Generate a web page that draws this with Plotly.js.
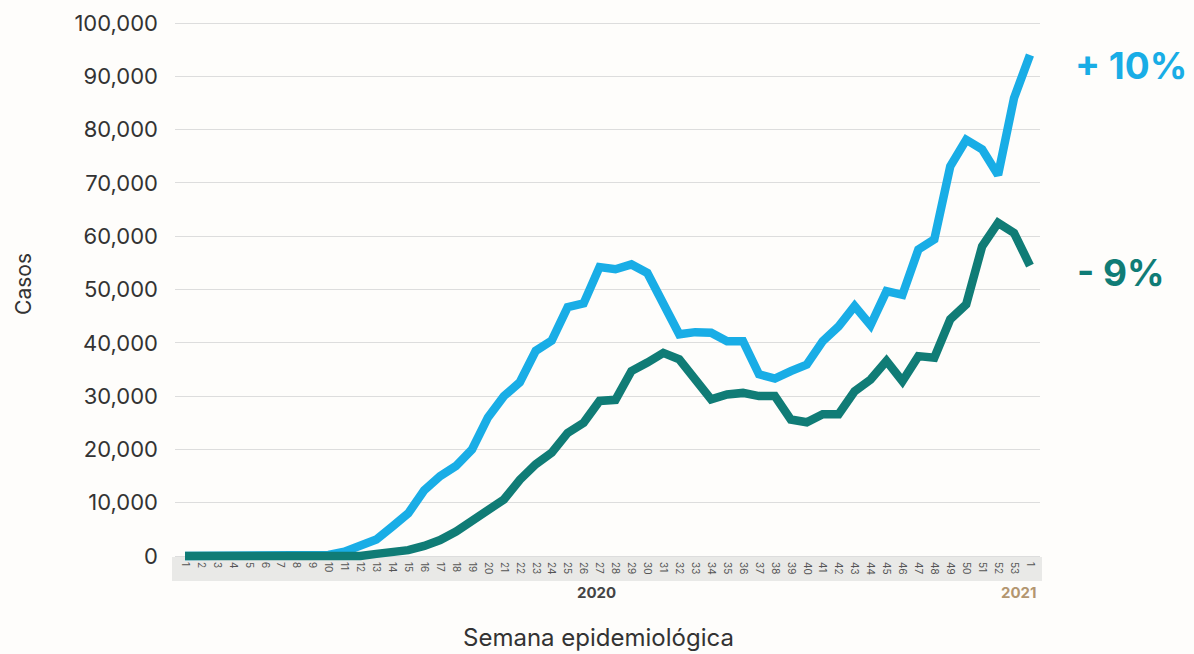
<!DOCTYPE html>
<html>
<head>
<meta charset="utf-8">
<script src="https://cdn.plot.ly/plotly-3.0.1.min.js"></script>
<style>
  html, body { margin: 0; padding: 0; background: #ffffff; }
  #chart { width: 1194px; height: 654px; }
</style>
</head>
<body>
<div id="chart"></div>
<script>
// Semana epidemiológica labels: weeks 1–53 of 2020, then week 1 of 2021
const weekLabels = ["1","2","3","4","5","6","7","8","9","10","11","12","13","14","15","16","17","18","19","20",
  "21","22","23","24","25","26","27","28","29","30","31","32","33","34","35","36","37","38","39","40",
  "41","42","43","44","45","46","47","48","49","50","51","52","53","1"];

// Light-blue series (rising, +10%)
const blueSeries = [0,0,0,0,0,0,0,0,0,200,800,1800,3100,5500,8000,12300,15000,16900,20000,26000,
  30000,32600,38500,40400,46700,47400,54200,53800,54700,53100,47500,41600,42000,41900,40300,40300,34100,33300,34700,35900,
  40300,43100,46900,43300,49700,49000,57500,59400,73100,78100,76300,71500,85900,94000];

// Teal series (falling, -9%)
const tealSeries = [0,0,0,0,0,0,0,0,0,0,0,0,400,600,1100,1900,3000,4600,6500,8400,
  10600,14300,17200,19400,23100,25000,29100,29300,34700,36300,38100,36900,33400,29400,30300,30600,30000,30000,25600,25100,
  26600,26600,30900,33100,36600,32800,37500,37200,44400,47200,58100,62500,60600,54500];

const yTicks = [0,10000,20000,30000,40000,50000,60000,70000,80000,90000,100000];
const yTickText = ["0","10,000","20,000","30,000","40,000","50,000","60,000","70,000","80,000","90,000","100,000"];

const xIdx = weekLabels.map((_, i) => i);

const BLUE = "#19ADE6";
const TEAL = "#107C76";
const FONT = "Inter, 'Noto Sans', sans-serif";

const traces = [
  { x: xIdx, y: blueSeries, type: "scatter", mode: "lines",
    line: { color: BLUE, width: 8.5 }, hoverinfo: "skip", showlegend: false },
  { x: xIdx, y: tealSeries, type: "scatter", mode: "lines",
    line: { color: TEAL, width: 8.5 }, hoverinfo: "skip", showlegend: false }
];

const layout = {
  width: 1194, height: 654,
  margin: { l: 175, r: 154, t: 13, b: 93 },
  paper_bgcolor: "#fefdfb",
  plot_bgcolor: "rgba(0,0,0,0)",
  font: { family: FONT, color: "#333333" },
  showlegend: false,
  xaxis: {
    range: [-0.63, 53.63],
    tickmode: "array",
    tickvals: xIdx,
    ticktext: weekLabels,
    tickangle: 90,
    tickfont: { size: 10, color: "#555555", family: FONT },
    showgrid: false, zeroline: false, showline: false, ticks: "",
    fixedrange: true
  },
  yaxis: {
    range: [-938, 101876],
    tickmode: "array",
    tickvals: yTicks,
    ticktext: yTickText,
    tickfont: { size: 22, color: "#333333", family: FONT },
    ticklabelstandoff: 16,
    showgrid: true, gridcolor: "#dddddd", gridwidth: 1,
    zeroline: false, showline: false, ticks: "",
    fixedrange: true
  },
  shapes: [
    { type: "rect", xref: "paper", yref: "paper", layer: "below",
      x0: -0.0035, x1: 1.0023, y0: -0.0365, y1: 0.0073,
      fillcolor: "#e9e9e7", line: { width: 0 } }
  ],
  annotations: [
    { text: "+ 10%", xref: "paper", yref: "paper", x: 1.038, y: 0.905, xanchor: "left", yanchor: "middle",
      showarrow: false, font: { size: 37, color: BLUE, family: FONT, weight: 700 } },
    { text: "- 9%", xref: "paper", yref: "paper", x: 1.04, y: 0.527, xanchor: "left", yanchor: "middle",
      showarrow: false, font: { size: 37, color: TEAL, family: FONT, weight: 700 } },
    { text: "2020", xref: "paper", yref: "paper", x: 0.487, y: -0.057, xanchor: "center", yanchor: "middle",
      showarrow: false, font: { size: 15, color: "#444444", family: FONT, weight: 700 } },
    { text: "2021", xref: "paper", yref: "paper", x: 0.975, y: -0.057, xanchor: "center", yanchor: "middle",
      showarrow: false, font: { size: 15, color: "#B39670", family: FONT, weight: 700 } },
    { text: "Semana epidemiológica", xref: "paper", yref: "paper", x: 0.49, y: -0.139, xanchor: "center", yanchor: "middle",
      showarrow: false, font: { size: 24, color: "#333333", family: FONT } },
    { text: "Casos", xref: "paper", yref: "paper", x: -0.175, y: 0.505, xanchor: "center", yanchor: "middle",
      textangle: -90, showarrow: false, font: { size: 21, color: "#333333", family: FONT } }
  ]
};

Plotly.newPlot("chart", traces, layout, { staticPlot: true, displayModeBar: false });
</script>
</body>
</html>
